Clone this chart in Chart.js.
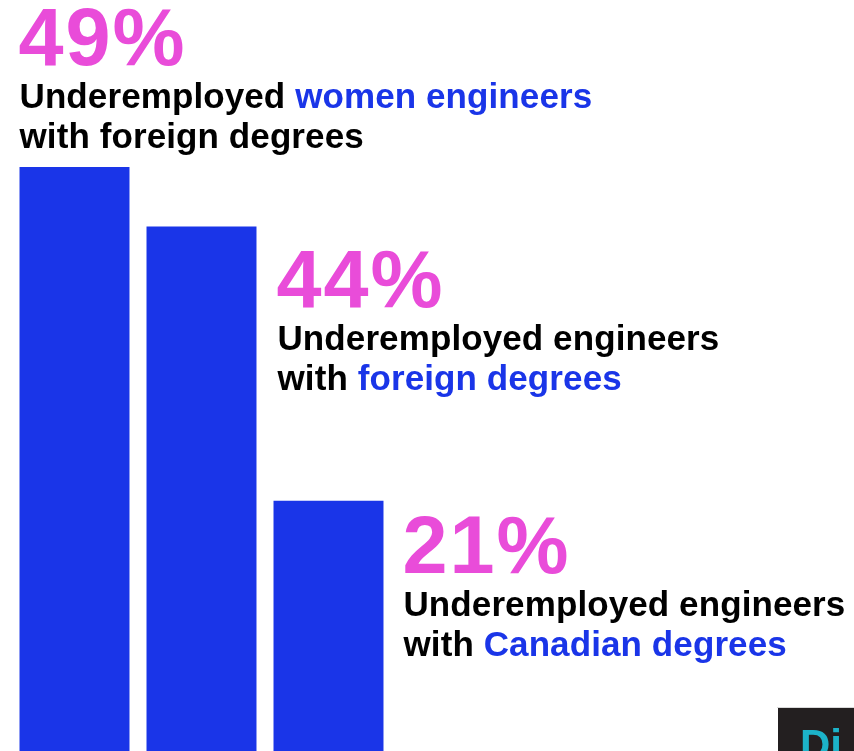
<!DOCTYPE html>
<html>
<head>
<meta charset="utf-8">
<script src="https://cdn.jsdelivr.net/npm/chart.js@4.4.1/dist/chart.umd.min.js"></script>
<style>
  html, body { margin: 0; padding: 0; background: #fff; overflow: hidden; }
  #chart { display: block; }
</style>
</head>
<body>
<canvas id="chart" width="854" height="751"></canvas>
<script>
const categories = ['Women, foreign degrees', 'Foreign degrees', 'Canadian degrees'];
const values = [49, 44, 21];
// each caption line is a list of [text, highlighted] pieces
const captionTop = [
  [['Underemployed ', false], ['women engineers', true]],
  [['Underemployed engineers', false]],
  [['Underemployed engineers', false]]
];
const captionBottom = [
  [['with foreign degrees', false]],
  [['with ', false], ['foreign degrees', true]],
  [['with ', false], ['Canadian degrees', true]]
];

const BLUE = '#1a35e8', PINK = '#e94cd9', INK = '#000000';
const FONT = '"Liberation Sans", Arial, Helvetica, sans-serif';

// where each caption sits relative to its bar: above the first, beside the others
const captionPlace = [
  { dx: 0, from: 'left', dy: -102 },
  { dx: 21, from: 'right', dy: 81 },
  { dx: 20, from: 'right', dy: 72 }
];

const captions = {
  id: 'captions',
  afterDatasetsDraw(chart) {
    const ctx = chart.ctx;
    const bars = chart.getDatasetMeta(0).data;
    ctx.save();
    ctx.textBaseline = 'alphabetic';
    ctx.textAlign = 'left';
    bars.forEach((bar, i) => {
      const { x, y, width } = bar.getProps(['x', 'y', 'width'], true);
      const p = captionPlace[i];
      const left = (p.from === 'left' ? x - width / 2 : x + width / 2) + p.dx;
      const base = y + p.dy;

      ctx.font = 'bold 81px ' + FONT;
      ctx.letterSpacing = '2px';
      ctx.fillStyle = PINK;
      ctx.fillText(values[i] + '%', left - 1, base);

      ctx.font = 'bold 35px ' + FONT;
      ctx.letterSpacing = '0.1px';
      [[captionTop[i], base + 43], [captionBottom[i], base + 83]].forEach(([pieces, ly]) => {
        let cx = left;
        pieces.forEach(([text, hi]) => {
          ctx.fillStyle = hi ? BLUE : INK;
          ctx.fillText(text, cx, ly);
          cx += ctx.measureText(text).width;
        });
      });
    });
    ctx.restore();
  },
  afterDraw(chart) {
    // publisher mark, bottom right corner
    const ctx = chart.ctx;
    ctx.save();
    ctx.fillStyle = '#d9d9d9';
    ctx.fillRect(777, 707, 77, 1);
    ctx.fillStyle = '#231f20';
    ctx.fillRect(778, 708, 76, 43);
    ctx.fillStyle = '#1cb3c9';
    ctx.font = 'bold 42px ' + FONT;
    ctx.textBaseline = 'alphabetic';
    ctx.fillText('Di', 800, 759);
    ctx.restore();
  }
};

new Chart(document.getElementById('chart'), {
  type: 'bar',
  data: {
    labels: categories,
    datasets: [{
      data: values,
      backgroundColor: BLUE,
      borderWidth: 0,
      categoryPercentage: 1,
      barPercentage: 0.866
    }]
  },
  options: {
    responsive: false,
    animation: false,
    layout: { padding: { left: 11, right: 462, top: 0, bottom: 0 } },
    plugins: { legend: { display: false }, tooltip: { enabled: false } },
    scales: {
      x: { display: false },
      y: { display: false, min: 0, max: 63 }
    }
  },
  plugins: [captions]
});
</script>
</body>
</html>
